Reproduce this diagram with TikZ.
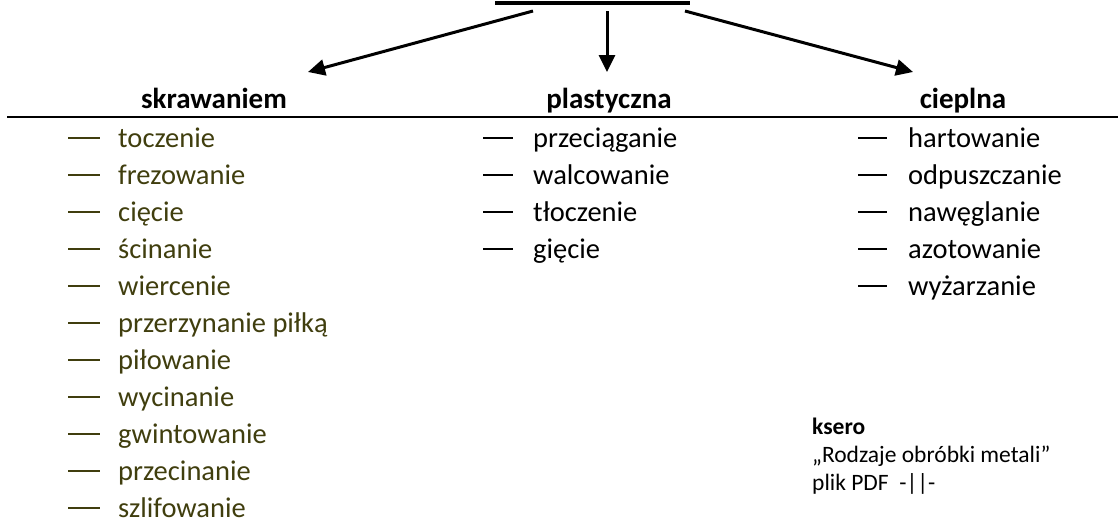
\documentclass[tikz,border=0pt]{standalone}
\usepackage{fontspec}
\setmainfont{Carlito}
\usetikzlibrary{arrows.meta}
\definecolor{olivetext}{RGB}{64,62,14}
\tikzset{
  head/.style={font=\fontsize{29}{35}\selectfont\bfseries, anchor=base, inner sep=0pt},
  item/.style={font=\fontsize{28.5}{34}\selectfont, anchor=base west, inner sep=0pt},
  dashline/.style={line width=1.6pt},
  arr/.style={line width=3pt, -{Triangle[length=17pt,width=16pt]}},
  note/.style={font=\fontsize{23.5}{29}\selectfont, anchor=base west, inner sep=0pt},
}
\begin{document}
\begin{tikzpicture}[x=1pt,y=-1pt]
\useasboundingbox (0,0) rectangle (1118,525);
% title underline
\coordinate (ulA) at (495,3);
\coordinate (ulB) at (690,3);
\draw[line width=3.6pt] (ulA) -- (ulB);
% arrow ends
\coordinate (sL) at (533,11);
\coordinate (sM) at (607,11);
\coordinate (sR) at (685,11);
\coordinate (tL) at (308,72);
\coordinate (tM) at (607,72);
\coordinate (tR) at (913,72);
\draw[arr] (sL) -- (tL);
\draw[arr] (sM) -- (tM);
\draw[arr] (sR) -- (tR);
% headings
\node[head] (h1) at (214,108) {skrawaniem};
\node[head] (h2) at (609,108) {plastyczna};
\node[head] (h3) at (963,108) {cieplna};
% rule
\coordinate (rA) at (7,117);
\coordinate (rB) at (1118,117);
\draw[line width=2.6pt] (rA) -- (rB);
% left column
\foreach \t [count=\i from 0] in {toczenie,frezowanie,cięcie,ścinanie,wiercenie,przerzynanie piłką,piłowanie,wycinanie,gwintowanie,przecinanie,szlifowanie}{
  \node[item, text=olivetext] (L\i) at (118,{147+37*\i}) {\t};
  \draw[dashline, olivetext] (68,{138+37*\i}) -- (100,{138+37*\i});
}
% middle column
\foreach \t [count=\i from 0] in {przeciąganie,walcowanie,tłoczenie,gięcie}{
  \node[item] (M\i) at (533,{147+37*\i}) {\t};
  \draw[dashline] (483,{138+37*\i}) -- (513,{138+37*\i});
}
% right column
\foreach \t [count=\i from 0] in {hartowanie,odpuszczanie,nawęglanie,azotowanie,wyżarzanie}{
  \node[item] (R\i) at (908,{147+37*\i}) {\t};
  \draw[dashline] (858,{138+37*\i}) -- (887,{138+37*\i});
}
% note
\node[note, font=\fontsize{23.5}{29}\selectfont\bfseries] (n1) at (812,434) {ksero};
\node[note] (n2) at (812,462) {„Rodzaje obróbki metali”};
\node[note] (n3) at (812,490) {plik PDF\ \ -||-};
\end{tikzpicture}
\end{document}
